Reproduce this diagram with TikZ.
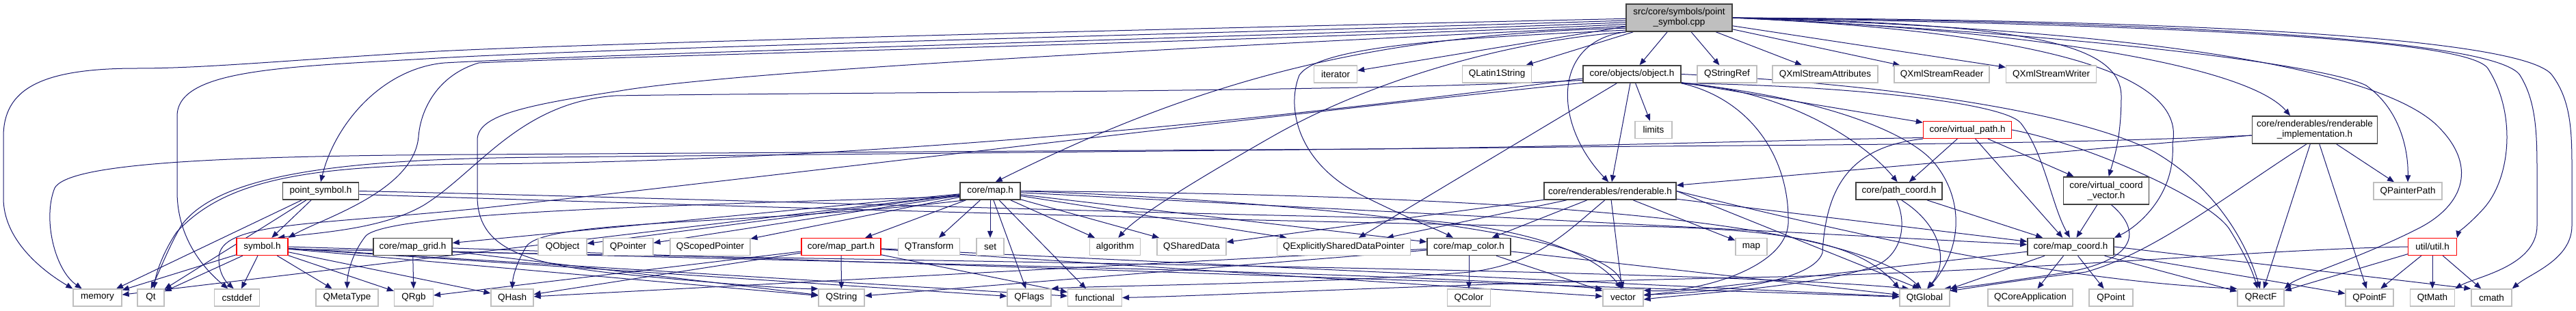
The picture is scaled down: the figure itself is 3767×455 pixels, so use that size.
\documentclass[tikz,border=0pt]{standalone}
\usepackage{fontspec}
\setmainfont{Liberation Sans}
\usetikzlibrary{arrows.meta,backgrounds}
\definecolor{edgecol}{HTML}{191970}
\definecolor{docline}{HTML}{404040}
\definecolor{extline}{HTML}{BFBFBF}
\definecolor{topfill}{HTML}{BFBFBF}
\definecolor{redline}{HTML}{FF0000}
\begin{document}
\begin{tikzpicture}[x=1pt,y=-1pt,
  box/.style={draw, rectangle, fill=white, font=\fontsize{13.5}{15}\selectfont, minimum height=25pt, inner xsep=1pt, inner ysep=1pt, align=center},
  docbox/.style={box, draw=docline, line width=1.6pt},
  redbox/.style={box, draw=redline, line width=1.3pt},
  extbox/.style={box, draw=extline, line width=1.3pt},
  topbox/.style={box, draw=docline, fill=topfill, line width=1.6pt, minimum height=40pt},
  tallbox/.style={minimum height=40pt},
  edge/.style={draw=edgecol, line width=1pt, -{Triangle[length=10pt,width=8pt]}},
]
\useasboundingbox (0,0) rectangle (3767,455);
% row 1
\node[topbox, minimum width=155pt] (S) at (2455.5,26) {src/core/symbols/point\\\_symbol.cpp};
% row 2
\node[extbox, minimum width=63pt] (iter) at (1953,108.5) {iterator};
\node[extbox, minimum width=101pt] (qlatin) at (2189,108.5) {QLatin1String};
\node[docbox, minimum width=143pt] (obj) at (2386.5,108.5) {core/objects/object.h};
\node[extbox, minimum width=87pt] (qsref) at (2525.5,108.5) {QStringRef};
\node[extbox, minimum width=154pt] (xmla) at (2669,108.5) {QXmlStreamAttributes};
\node[extbox, minimum width=139pt] (xmlr) at (2839.5,108.5) {QXmlStreamReader};
\node[extbox, minimum width=132pt] (xmlw) at (2999.5,108.5) {QXmlStreamWriter};
% row 3
\node[extbox, minimum width=54pt] (limits) at (2418,190) {limits};
\node[redbox, minimum width=129pt] (vpath) at (2877,190) {core/virtual\_path.h};
\node[docbox, tallbox, minimum width=183pt] (rimpl) at (3385,190) {core/renderables/renderable\\\_implementation.h};
% row 4
\node[docbox, minimum width=111pt] (psym) at (469,279.5) {point\_symbol.h};
\node[docbox, minimum width=88pt] (map) at (1448,279.5) {core/map.h};
\node[docbox, minimum width=193pt] (rend) at (2354.5,279.5) {core/renderables/renderable.h};
\node[docbox, minimum width=126pt] (pcoord) at (2777,279.5) {core/path\_coord.h};
\node[docbox, tallbox, minimum width=125pt] (vcv) at (3080,279) {core/virtual\_coord\\\_vector.h};
\node[extbox, minimum width=100pt] (qpp) at (3521,279.5) {QPainterPath};
% row 5
\node[redbox, minimum width=75pt] (sym) at (383.5,361) {symbol.h};
\node[docbox, minimum width=115pt] (mgrid) at (603.5,361) {core/map\_grid.h};
\node[extbox, minimum width=71pt] (qobj) at (822.5,361) {QObject};
\node[extbox, minimum width=73pt] (qptr) at (918.5,361) {QPointer};
\node[extbox, minimum width=117pt] (qsp) at (1038.5,361) {QScopedPointer};
\node[redbox, minimum width=116pt] (mpart) at (1230,361) {core/map\_part.h};
\node[extbox, minimum width=90pt] (qtrans) at (1358.5,361) {QTransform};
\node[extbox, minimum width=40pt] (nset) at (1448,361) {set};
\node[extbox, minimum width=74pt] (algo) at (1630.5,361) {algorithm};
\node[extbox, minimum width=101pt] (qsd) at (1742.5,361) {QSharedData};
\node[extbox, minimum width=195pt] (qesdp) at (1965,361) {QExplicitlySharedDataPointer};
\node[docbox, minimum width=122pt] (mcolor) at (2148,361) {core/map\_color.h};
\node[extbox, minimum width=46pt] (stdmap) at (2561,361) {map};
\node[docbox, minimum width=126pt] (mcoord) at (3028,361) {core/map\_coord.h};
\node[redbox, minimum width=71pt] (util) at (3557,361) {util/util.h};
% row 6
\node[extbox, minimum width=71pt] (memory) at (142.5,435.5) {memory};
\node[extbox, minimum width=39pt] (qt) at (220.5,435.5) {Qt};
\node[extbox, minimum width=66pt] (cstddef) at (346.5,435.5) {cstddef};
\node[extbox, minimum width=91pt] (qmeta) at (507.5,435.5) {QMetaType};
\node[extbox, minimum width=57pt] (qrgb) at (605,435.5) {QRgb};
\node[extbox, minimum width=62pt] (qhash) at (749,435.5) {QHash};
\node[extbox, minimum width=67pt] (qstring) at (1230.5,435.5) {QString};
\node[extbox, minimum width=64pt] (qflags) at (1505,435.5) {QFlags};
\node[extbox, minimum width=79pt] (functional) at (1601,435.5) {functional};
\node[extbox, minimum width=63pt] (qcolor) at (2148,435.5) {QColor};
\node[extbox, minimum width=59pt] (vector) at (2373.5,435.5) {vector};
\node[extbox, minimum width=73pt] (qtglobal) at (2814.5,435.5) {QtGlobal};
\node[extbox, minimum width=124pt] (qcoreapp) at (2969,435.5) {QCoreApplication};
\node[extbox, minimum width=64pt] (qpoint) at (3087,435.5) {QPoint};
\node[extbox, minimum width=68pt] (qrectf) at (3306,435.5) {QRectF};
\node[extbox, minimum width=70pt] (qpointf) at (3465,435.5) {QPointF};
\node[extbox, minimum width=65pt] (qtmath) at (3557,435.5) {QtMath};
\node[extbox, minimum width=59pt] (cmath) at (3643.5,435.5) {cmath};

\begin{scope}[on background layer]
\fill[white] (0,0) rectangle (3767,455);
% ---- src
\foreach \t in {iter,qlatin,obj,qsref,xmla,xmlr,xmlw} \draw[edge] (S) -- (\t);
\draw[edge] (S.181) .. controls (1800,40) and (900,62) .. (640,75) .. controls (420,88) and (300,100) .. (200,100) .. controls (60,100) and (5,130) .. (5,200) -- (5,290) .. controls (5,350) and (60,395) .. (memory.160);
\draw[edge] (S.183) .. controls (1800,48) and (900,70) .. (640,85) .. controls (420,98) and (259,100) .. (259,170) -- (259,280) .. controls (259,350) and (300,395) .. (cstddef.135);
\draw[edge] (S.185) .. controls (1800,55) and (900,78) .. (650,92) .. controls (560,100) and (490,180) .. (psym.north);
\draw[edge] (S.187) .. controls (1800,62) and (900,82) .. (700,92) .. controls (640,110) and (615,160) .. (612,200) .. controls (605,280) and (470,320) .. (sym.north east);
\draw[edge] (S.189) .. controls (1900,62) and (1100,100) .. (906,133) .. controls (760,155) and (698,170) .. (698,205) -- (698,287) .. controls (698,360) and (760,385) .. (900,400) .. controls (1050,415) and (1160,423) .. (qstring.north west);
\draw[edge] (S.191) .. controls (2000,50) and (1750,120) .. (map.60);
\draw[edge] (S.193) .. controls (2150,55) and (1930,65) .. (1900,110) .. controls (1880,160) and (1900,240) .. (1990,285) .. controls (2060,320) and (2100,335) .. (mcolor.150);
\draw[edge] (S.195) .. controls (2200,60) and (2000,120) .. (1860,200) .. controls (1720,280) and (1660,320) .. (algo.70);
\draw[edge] (S.south west) .. controls (2270,60) and (2270,180) .. (rend.100);
\draw[edge] (S.east) .. controls (2950,35) and (3100,60) .. (3102,140) .. controls (3102,200) and (3092,230) .. (vcv.80);
\draw[edge] (S.east) .. controls (2950,45) and (3200,100) .. (3177,210) .. controls (3182,290) and (3120,335) .. (mcoord.north east);
\draw[edge] (S.east) .. controls (3000,45) and (3290,100) .. (rimpl.150);
\draw[edge] (S.east) .. controls (3050,50) and (3400,95) .. (3460,125) .. controls (3510,160) and (3522,220) .. (qpp.north);
\draw[edge] (S.east) .. controls (3200,45) and (3480,110) .. (3560,180) .. controls (3625,240) and (3605,300) .. (3535,335) .. controls (3450,378) and (3360,405) .. (qrectf.north east);
\draw[edge] (S.east) .. controls (3250,38) and (3610,60) .. (3638,100) .. controls (3680,165) and (3672,260) .. (3632,305) .. controls (3612,327) and (3595,340) .. (util.north east);
\draw[edge] (S.east) .. controls (3300,33) and (3655,65) .. (3685,110) .. controls (3710,150) and (3710,200) .. (3710,260) -- (3710,330) .. controls (3710,390) and (3620,405) .. (qtmath.north east);
\draw[edge] (S.east) .. controls (3350,30) and (3700,65) .. (3732,110) .. controls (3762,150) and (3761,200) .. (3761,260) -- (3761,330) .. controls (3761,380) and (3700,400) .. (cmath.north east);
% ---- object.h
\foreach \t in {limits,rend,qesdp,vpath} \draw[edge] (obj) -- (\t);
\draw[edge] (obj.187) .. controls (2000,135) and (1200,135) .. (900,140) .. controls (760,150) and (700,250) .. (620,300) .. controls (560,335) and (470,340) .. (sym.30);
\draw[edge] (obj.190) .. controls (1800,175) and (1200,250) .. (700,305) .. controls (450,330) and (320,325) .. (320,378) .. controls (320,400) and (330,412) .. (cstddef.110);
\draw[edge] (obj.185) .. controls (1900,170) and (1300,235) .. (700,240) .. controls (450,242) and (330,262) .. (258,340) .. controls (238,370) and (228,400) .. (qt.70);
\draw[edge] (obj.south east) .. controls (2600,130) and (2720,200) .. (pcoord.100);
\draw[edge] (obj.south east) .. controls (2700,125) and (2930,150) .. (2955,180) .. controls (2990,225) and (3000,300) .. (mcoord.95);
\draw[edge] (obj.south east) .. controls (2650,140) and (2790,190) .. (2830,240) .. controls (2870,290) and (2872,360) .. (qtglobal.70);
\draw[edge] (obj.south east) .. controls (2560,145) and (2615,230) .. (2615,320) .. controls (2620,395) and (2470,430) .. (vector.20);
\draw[edge] (obj.east) .. controls (2800,125) and (3050,170) .. (3150,222) .. controls (3250,280) and (3290,370) .. (qrectf.95);
% ---- virtual_path.h
\foreach \t in {pcoord,mcoord,vcv} \draw[edge] (vpath) -- (\t);
\draw[edge] (vpath.190) .. controls (2600,205) and (2300,215) .. (2000,218) -- (700,226) .. controls (300,228) and (100,240) .. (80,275) .. controls (62,320) and (80,395) .. (memory.150);
\draw[edge] (vpath.south west) .. controls (2700,215) and (2670,280) .. (2665,370) .. controls (2650,415) and (2500,428) .. (vector.8);
\draw[edge] (vpath.east) .. controls (3050,210) and (3230,290) .. (3260,335) .. controls (3285,375) and (3295,400) .. (qrectf.110);
% ---- path_coord.h, virtual_coord_vector.h
\draw[edge] (pcoord) -- (mcoord);
\draw[edge] (pcoord.-75) .. controls (2840,330) and (2850,385) .. (qtglobal.75);
\draw[edge] (pcoord.-105) .. controls (2790,330) and (2780,375) .. (2740,390) .. controls (2650,420) and (2470,430) .. (vector.-5);
\draw[edge] (vcv) -- (mcoord);
\draw[edge] (vcv.-70) .. controls (3135,340) and (3125,385) .. (3000,402) .. controls (2930,412) and (2880,420) .. (qtglobal.25);
% ---- map_coord.h
\foreach \t in {qtglobal,qcoreapp,qpoint,qpointf,qrectf,vector} \draw[edge] (mcoord) -- (\t);
\draw[edge] (mcoord.east) -- (cmath.north west);
% ---- renderable_implementation.h
\foreach \t in {rend,qpp,qrectf,qpointf} \draw[edge] (rimpl) -- (\t);
\draw[edge] (rimpl.185) .. controls (3000,212) and (2600,212) .. (2300,215) -- (800,230) .. controls (500,232) and (320,255) .. (265,330) .. controls (245,365) and (232,400) .. (qt.north);
\draw[edge] (rimpl.-120) .. controls (3250,290) and (3150,370) .. (3050,398) .. controls (2950,410) and (2890,420) .. (qtglobal.15);
% ---- renderable.h
\foreach \t in {qesdp,qsd,mcolor,vector,stdmap,mcoord} \draw[edge] (rend) -- (\t);
\draw[edge] (rend.east) -- (qtglobal.120);
\draw[edge] (rend.east) .. controls (2700,340) and (3000,410) .. (qrectf.north west);
\draw[edge] (rend.-120) .. controls (2290,340) and (2250,385) .. (2150,398) .. controls (1950,415) and (1600,418) .. (qflags.north east);
% ---- map.h
\foreach \t in {mpart,qtrans,nset,qflags,functional,algo,qsd,qesdp,mgrid,qobj,qptr,qsp,memory,mcoord,mcolor} \draw[edge] (map) -- (\t);
\draw[edge] (map.200) .. controls (1100,330) and (800,320) .. (770,360) .. controls (755,385) and (750,405) .. (qhash.north);
\draw[edge] (map.190) .. controls (1000,300) and (570,310) .. (535,345) .. controls (515,370) and (508,400) .. (qmeta.north);
\draw[edge] (map.east) .. controls (1800,290) and (2350,330) .. (vector.north);
\draw[edge] (map.east) .. controls (2200,285) and (2700,320) .. (qtglobal.110);
% ---- point_symbol.h
\foreach \t in {sym,memory,qt} \draw[edge] (psym) -- (\t);
\draw[edge] (psym.east) .. controls (1000,290) and (1600,310) .. (2000,318) .. controls (2250,325) and (2340,380) .. (vector.100);
\draw[edge] (psym.-5) .. controls (1000,300) and (1700,320) .. (2200,330) .. controls (2500,330) and (2700,330) .. (qtglobal.north west);
% ---- symbol.h
\foreach \t in {memory,qt,cstddef,qmeta,qrgb,qhash,qstring,qflags,functional} \draw[edge] (sym) -- (\t);
\draw[edge] (sym.east) .. controls (1200,385) and (2000,395) .. (vector.north west);
\draw[edge] (sym.-5) .. controls (1500,385) and (2500,395) .. (qtglobal.150);
% ---- map_grid.h, map_part.h, map_color.h
\foreach \t in {qrgb,qstring,qtglobal} \draw[edge] (mgrid) -- (\t);
\foreach \t in {qstring,qhash,qrgb,functional,vector,qtglobal} \draw[edge] (mpart) -- (\t);
\foreach \t in {qcolor,vector,qtglobal,qstring,qhash} \draw[edge] (mcolor) -- (\t);
% ---- util.h
\foreach \t in {qrectf,qpointf,qtmath,cmath} \draw[edge] (util) -- (\t);
\draw[edge] (util.west) .. controls (3300,365) and (3000,395) .. (2600,405) .. controls (2100,415) and (1800,432) .. (functional.east);
\end{scope}
\end{tikzpicture}
\end{document}
